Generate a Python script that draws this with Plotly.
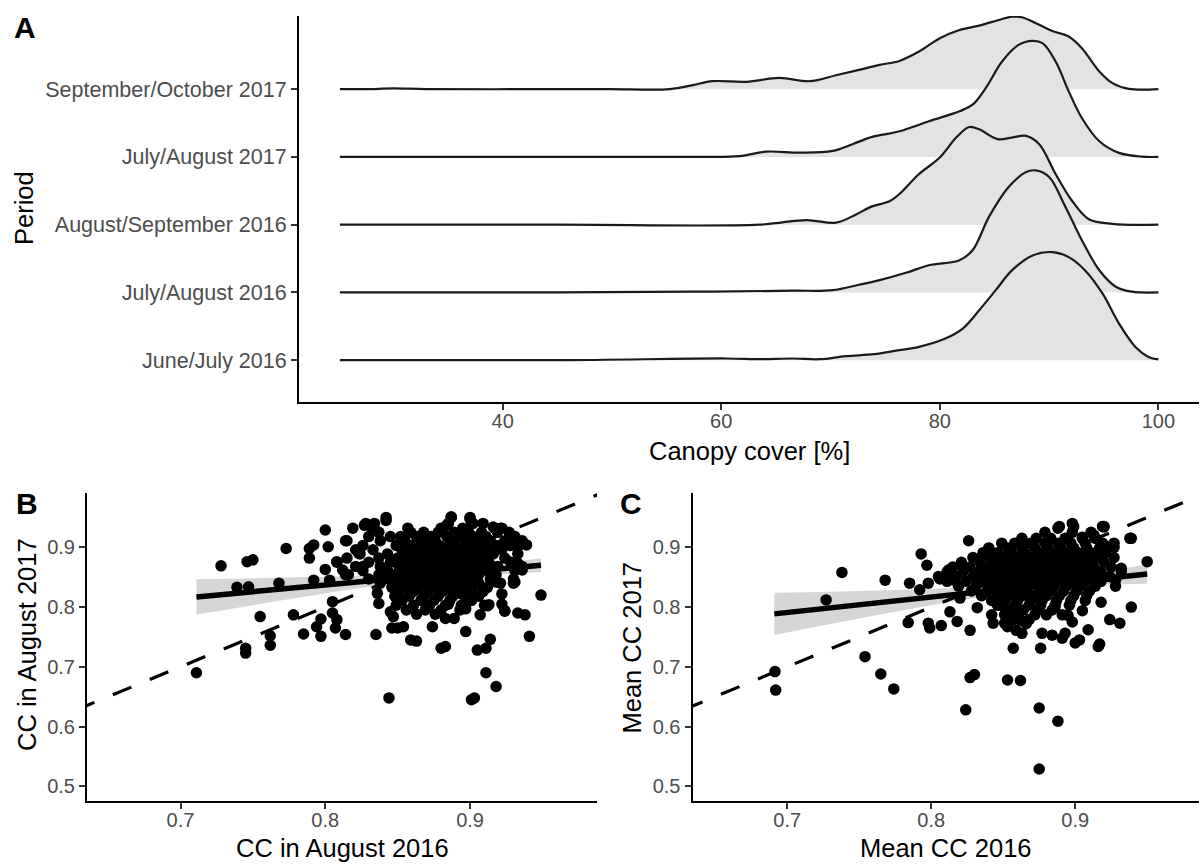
import plotly.graph_objects as go

FONT = "Liberation Sans, Arial, Helvetica, sans-serif"
W, H = 1201, 864

# ---------------------------------------------------------------- panel A data
periods = ["June/July 2016", "July/August 2016", "August/September 2016",
           "July/August 2017", "September/October 2017"]

# canopy cover (%) grid and density for each sampling period
cc_jj16 = [25.1, 45.0, 60.5, 63.5, 66.5, 69.0, 71.4, 74.0, 76.0, 78.1, 80.5, 82.1,
           83.6, 85.1, 86.6, 88.5, 90.3, 91.8, 93.3, 94.9, 96.4, 97.9, 99.1, 100.0]
dens_jj16 = [0, 0, 0.0014, 0.0008, 0.0014, 0.0008, 0.0033, 0.0049, 0.0078, 0.0109,
             0.0177, 0.0259, 0.0409, 0.0572, 0.0736, 0.0859, 0.0886, 0.0845, 0.0736,
             0.0545, 0.0300, 0.0109, 0.0027, 0.0006]

cc_ja16 = [25.1, 45.0, 57.4, 66.5, 70.2, 72.6, 74.5, 76.9, 79.0, 81.8, 83.0, 84.5,
           86.3, 87.9, 88.8, 90.0, 91.5, 93.0, 94.6, 96.1, 97.6, 100.0]
dens_ja16 = [0, 0, 0.0006, 0.0014, 0.0019, 0.0063, 0.0101, 0.0161, 0.0223, 0.0264,
             0.0346, 0.0619, 0.0864, 0.0987, 0.1000, 0.0946, 0.0701, 0.0428, 0.0182,
             0.0047, 0.0006, 0]

cc_as16 = [25.1, 45.0, 63.5, 67.8, 70.5, 72.3, 73.8, 75.4, 76.3, 78.1, 80.0, 81.5,
           82.7, 83.6, 85.3, 86.6, 87.9, 89.1, 90.6, 92.1, 93.6, 95.8, 100.0]
dens_as16 = [0, 0, 0, 0.0038, 0.0016, 0.0082, 0.0150, 0.0191, 0.0251, 0.0415, 0.0550,
             0.0714, 0.0801, 0.0782, 0.0701, 0.0714, 0.0728, 0.0660, 0.0415, 0.0196,
             0.0047, 0.0006, 0]

cc_ja17 = [25.1, 45.0, 58.0, 61.7, 64.1, 67.2, 70.2, 72.0, 73.8, 74.8, 76.3, 79.0,
           81.8, 83.0, 84.2, 85.7, 87.2, 88.5, 89.4, 90.6, 91.8, 93.0, 94.6, 96.4,
           98.5, 100.0]
dens_ja17 = [0, 0, 0, 0.0006, 0.0043, 0.0035, 0.0049, 0.0104, 0.0164, 0.0182, 0.0210,
             0.0292, 0.0374, 0.0428, 0.0564, 0.0782, 0.0918, 0.0951, 0.0932, 0.0782,
             0.0537, 0.0319, 0.0128, 0.0033, 0.0002, 0]

cc_so17 = [25.1, 27.5, 30.0, 33.0, 45.2, 49.8, 55.3, 57.4, 59.2, 62.3, 65.3, 68.1,
           70.5, 72.6, 74.5, 76.3, 78.1, 80.0, 81.8, 83.6, 85.4, 86.6, 87.5, 88.8,
           90.3, 91.8, 93.0, 94.6, 95.8, 97.3, 100.0]
dens_so17 = [0, 0, 0.0006, 0, 0, 0, 0, 0.0033, 0.0065, 0.0060, 0.0092, 0.0065, 0.0114,
             0.0158, 0.0199, 0.0231, 0.0308, 0.0417, 0.0485, 0.0521, 0.0567, 0.0594,
             0.0589, 0.0540, 0.0477, 0.0431, 0.0335, 0.0145, 0.0049, 0.0002, 0]

ridge_cc = [cc_jj16, cc_ja16, cc_as16, cc_ja17, cc_so17]
ridge_dens = [dens_jj16, dens_ja16, dens_as16, dens_ja17, dens_so17]
RIDGE_SCALE = 1.8 / max(max(d) for d in ridge_dens)   # tallest ridge = 1.8 rows

# ---------------------------------------------------------------- panel B data
# CC in August 2016 (x) vs CC in August 2017 (y); dense core stored row by row
b_rows = [
    (0.950, [0.842, 0.887, 0.900]),
    (0.940, [0.828, 0.834, 0.885, 0.902, 0.909]),
    (0.932, [0.819, 0.857, 0.880, 0.895, 0.917, 0.922]),
    (0.925, [0.837, 0.859, 0.868, 0.878, 0.889, 0.899, 0.908, 0.919, 0.927]),
    (0.918, [0.830, 0.845, 0.852, 0.863, 0.873, 0.884, 0.892, 0.902, 0.911, 0.931]),
    (0.911, [0.814, 0.838, 0.855, 0.866, 0.876, 0.886, 0.896, 0.905, 0.914, 0.924, 0.936]),
    (0.903, [0.826, 0.849, 0.859, 0.870, 0.879, 0.889, 0.899, 0.909, 0.919, 0.928]),
    (0.896, [0.821, 0.833, 0.853, 0.864, 0.874, 0.883, 0.893, 0.902, 0.913, 0.922]),
    (0.889, [0.824, 0.843, 0.857, 0.868, 0.877, 0.887, 0.897, 0.906, 0.916, 0.933]),
    (0.882, [0.815, 0.837, 0.850, 0.861, 0.871, 0.880, 0.890, 0.900, 0.910, 0.924]),
    (0.875, [0.808, 0.830, 0.845, 0.855, 0.865, 0.874, 0.884, 0.894, 0.903, 0.913, 0.928]),
    (0.868, [0.821, 0.838, 0.851, 0.859, 0.869, 0.878, 0.888, 0.898, 0.907, 0.919, 0.936]),
    (0.861, [0.826, 0.843, 0.854, 0.864, 0.873, 0.883, 0.893, 0.902, 0.912, 0.931]),
    (0.854, [0.816, 0.837, 0.848, 0.858, 0.868, 0.878, 0.888, 0.897, 0.906, 0.918]),
    (0.847, [0.830, 0.844, 0.853, 0.863, 0.872, 0.882, 0.892, 0.901, 0.914, 0.930]),
    (0.840, [0.838, 0.849, 0.859, 0.868, 0.877, 0.887, 0.896, 0.906, 0.921]),
    (0.833, [0.846, 0.855, 0.864, 0.874, 0.884, 0.893, 0.902, 0.912]),
    (0.826, [0.851, 0.861, 0.871, 0.881, 0.890, 0.899, 0.909]),
    (0.818, [0.848, 0.858, 0.868, 0.878, 0.888, 0.897, 0.906]),
    (0.811, [0.853, 0.866, 0.875, 0.886, 0.901]),
    (0.803, [0.849, 0.861, 0.872, 0.883, 0.894, 0.910]),
    (0.795, [0.856, 0.869, 0.880, 0.893]),
    (0.788, [0.863, 0.876]),
]
b_extra_x = [0.711, 0.728, 0.739, 0.747, 0.746, 0.750, 0.745, 0.745, 0.755, 0.762,
             0.762, 0.768, 0.773, 0.778, 0.785, 0.789, 0.789, 0.792, 0.792, 0.794,
             0.797, 0.797, 0.800, 0.802, 0.800, 0.803, 0.805, 0.808, 0.805, 0.808,
             0.807, 0.812, 0.814, 0.814, 0.815, 0.823, 0.826, 0.827, 0.832, 0.835,
             0.836, 0.837, 0.842, 0.844, 0.845, 0.847, 0.846, 0.850, 0.854, 0.859,
             0.863, 0.874, 0.880, 0.883, 0.883, 0.889, 0.887, 0.884, 0.897, 0.900,
             0.901, 0.901, 0.903, 0.905, 0.911, 0.914, 0.911, 0.918, 0.907, 0.913,
             0.924, 0.933, 0.938, 0.941, 0.949, 0.927, 0.933, 0.939, 0.933, 0.936,
             0.930, 0.921, 0.916, 0.849, 0.897, 0.902, 0.894, 0.885, 0.912, 0.918,
             0.931, 0.922, 0.922, 0.924]
b_extra_y = [0.690, 0.869, 0.833, 0.834, 0.876, 0.879, 0.731, 0.723, 0.784, 0.752,
             0.736, 0.840, 0.898, 0.787, 0.755, 0.898, 0.882, 0.904, 0.845, 0.767,
             0.780, 0.751, 0.929, 0.901, 0.863, 0.845, 0.809, 0.876, 0.790, 0.779,
             0.765, 0.862, 0.854, 0.754, 0.911, 0.890, 0.868, 0.937, 0.932, 0.754,
             0.823, 0.806, 0.945, 0.648, 0.792, 0.784, 0.765, 0.765, 0.767, 0.745,
             0.743, 0.767, 0.731, 0.734, 0.781, 0.781, 0.951, 0.937, 0.759, 0.948,
             0.940, 0.645, 0.648, 0.728, 0.731, 0.746, 0.690, 0.667, 0.787, 0.804,
             0.793, 0.790, 0.787, 0.751, 0.820, 0.909, 0.901, 0.904, 0.873, 0.862,
             0.840, 0.932, 0.934, 0.828, 0.797, 0.819, 0.822, 0.805, 0.802, 0.842,
             0.842, 0.822, 0.805, 0.794]

# linear fit with 95% band
b_fit_x = [0.711, 0.750, 0.790, 0.830, 0.870, 0.910, 0.949]
b_fit_y = [0.8170, 0.8257, 0.8346, 0.8435, 0.8524, 0.8613, 0.8700]
b_ci_lo = [0.7875, 0.8032, 0.8191, 0.8340, 0.8459, 0.8533, 0.8585]
b_ci_hi = [0.8465, 0.8482, 0.8501, 0.8530, 0.8589, 0.8693, 0.8815]

# ---------------------------------------------------------------- panel C data
# mean CC 2016 (x) vs mean CC 2017 (y)
c_rows = [
    (0.935, [0.889, 0.899, 0.920]),
    (0.925, [0.879, 0.898, 0.911]),
    (0.915, [0.863, 0.873, 0.883, 0.893, 0.905, 0.914, 0.939]),
    (0.907, [0.849, 0.858, 0.869, 0.879, 0.888, 0.897, 0.907, 0.919, 0.927]),
    (0.899, [0.840, 0.853, 0.863, 0.872, 0.881, 0.890, 0.899, 0.908, 0.917]),
    (0.891, [0.836, 0.846, 0.856, 0.865, 0.875, 0.884, 0.893, 0.902, 0.911, 0.921]),
    (0.883, [0.829, 0.841, 0.850, 0.860, 0.869, 0.878, 0.887, 0.896, 0.905, 0.915, 0.927]),
    (0.875, [0.821, 0.834, 0.845, 0.854, 0.864, 0.873, 0.881, 0.890, 0.900, 0.909, 0.920]),
    (0.867, [0.815, 0.827, 0.839, 0.849, 0.858, 0.868, 0.876, 0.885, 0.894, 0.904, 0.913, 0.925]),
    (0.859, [0.811, 0.822, 0.833, 0.844, 0.853, 0.862, 0.872, 0.880, 0.889, 0.898, 0.907, 0.918, 0.932]),
    (0.851, [0.805, 0.817, 0.829, 0.839, 0.849, 0.858, 0.867, 0.876, 0.884, 0.893, 0.903, 0.912, 0.924]),
    (0.843, [0.811, 0.824, 0.835, 0.845, 0.853, 0.862, 0.871, 0.879, 0.888, 0.898, 0.907, 0.918]),
    (0.835, [0.819, 0.831, 0.842, 0.850, 0.859, 0.868, 0.877, 0.885, 0.894, 0.904, 0.914, 0.928]),
    (0.827, [0.828, 0.839, 0.848, 0.857, 0.866, 0.875, 0.883, 0.892, 0.901, 0.910]),
    (0.819, [0.835, 0.846, 0.854, 0.863, 0.872, 0.880, 0.889, 0.899, 0.908]),
    (0.811, [0.842, 0.851, 0.860, 0.869, 0.877, 0.887, 0.897, 0.907]),
    (0.803, [0.848, 0.858, 0.868, 0.876, 0.886]),
    (0.795, [0.854, 0.864, 0.874, 0.884]),
    (0.787, [0.851, 0.860, 0.872, 0.880, 0.891]),
    (0.779, [0.857, 0.868]),
]
c_extra_x = [0.6915, 0.692, 0.727, 0.738, 0.754, 0.765, 0.768, 0.774, 0.784, 0.785,
             0.793, 0.797, 0.792, 0.798, 0.798, 0.799, 0.806, 0.807, 0.812, 0.813,
             0.816, 0.818, 0.820, 0.822, 0.824, 0.826, 0.827, 0.827, 0.830, 0.832,
             0.836, 0.842, 0.843, 0.851, 0.853, 0.862, 0.857, 0.863, 0.875, 0.875,
             0.876, 0.877, 0.884, 0.888, 0.891, 0.893, 0.900, 0.903, 0.909, 0.916,
             0.917, 0.924, 0.931, 0.939, 0.938, 0.950, 0.919, 0.898, 0.888, 0.932,
             0.928, 0.924, 0.886, 0.896, 0.895, 0.898, 0.905, 0.918, 0.862, 0.866,
             0.853, 0.859, 0.846, 0.920, 0.905, 0.913, 0.927]
c_extra_y = [0.692, 0.661, 0.812, 0.858, 0.717, 0.688, 0.845, 0.663, 0.774, 0.840,
             0.889, 0.870, 0.829, 0.840, 0.773, 0.765, 0.847, 0.769, 0.862, 0.792,
             0.845, 0.776, 0.815, 0.869, 0.628, 0.911, 0.761, 0.682, 0.687, 0.799,
             0.886, 0.787, 0.773, 0.773, 0.678, 0.677, 0.731, 0.756, 0.631, 0.529,
             0.731, 0.756, 0.753, 0.609, 0.748, 0.756, 0.740, 0.745, 0.762, 0.734,
             0.738, 0.779, 0.773, 0.800, 0.915, 0.876, 0.935, 0.940, 0.932, 0.865,
             0.845, 0.901, 0.800, 0.803, 0.786, 0.775, 0.794, 0.808, 0.778, 0.772,
             0.767, 0.761, 0.803, 0.934, 0.917, 0.920, 0.900]

c_fit_x = [0.691, 0.730, 0.770, 0.810, 0.850, 0.890, 0.920, 0.950]
c_fit_y = [0.7886, 0.7987, 0.8090, 0.8193, 0.8296, 0.8399, 0.8477, 0.8554]
c_ci_lo = [0.7531, 0.7717, 0.7900, 0.8073, 0.8221, 0.8329, 0.8372, 0.8389]
c_ci_hi = [0.8241, 0.8257, 0.8280, 0.8313, 0.8371, 0.8469, 0.8582, 0.8719]

identity = [0.5, 1.0]   # 1:1 reference line

# ---------------------------------------------------------------- helpers
def px_x(a, b):
    return [a / W, b / W]


def px_y(top, bottom):
    return [1 - bottom / H, 1 - top / H]


def expand_rows(rows):
    xs, ys = [], []
    for yv, xlist in rows:
        for xv in xlist:
            xs.append(xv)
            ys.append(yv)
    return xs, ys


fig = go.Figure()

# ---------------------------------------------------------------- ridgelines
for i in reversed(range(len(periods))):
    xs = ridge_cc[i]
    fig.add_trace(go.Scatter(x=xs, y=[i] * len(xs), mode="lines",
                             line=dict(width=0, color="rgba(0,0,0,0)"),
                             hoverinfo="skip", xaxis="x", yaxis="y"))
    fig.add_trace(go.Scatter(x=xs, y=[i + d * RIDGE_SCALE for d in ridge_dens[i]],
                             mode="lines", fill="tonexty", fillcolor="#E3E3E3",
                             line=dict(color="#1A1A1A", width=2.2, shape="spline",
                                       smoothing=1.0),
                             name=periods[i], xaxis="x", yaxis="y"))

# ---------------------------------------------------------------- scatter panels
def add_scatter_panel(rows, ex, ey, fx, fy, lo, hi, xa, ya):
    rx, ry = expand_rows(rows)
    # confidence band and fitted line sit underneath the points
    fig.add_trace(go.Scatter(x=fx, y=lo, mode="lines",
                             line=dict(width=0, shape="spline"),
                             hoverinfo="skip", xaxis=xa, yaxis=ya))
    fig.add_trace(go.Scatter(x=fx, y=hi, mode="lines", fill="tonexty",
                             fillcolor="rgba(153,153,153,0.4)",
                             line=dict(width=0, shape="spline"),
                             hoverinfo="skip", xaxis=xa, yaxis=ya))
    fig.add_trace(go.Scatter(x=fx, y=fy, mode="lines",
                             line=dict(color="black", width=5.5),
                             xaxis=xa, yaxis=ya))
    fig.add_trace(go.Scatter(x=rx + ex, y=ry + ey, mode="markers",
                             marker=dict(size=11.5, color="black", line=dict(width=0)),
                             xaxis=xa, yaxis=ya))
    fig.add_trace(go.Scatter(x=identity, y=identity, mode="lines",
                             line=dict(color="black", width=3.2, dash="20px,20px"),
                             hoverinfo="skip", xaxis=xa, yaxis=ya))


add_scatter_panel(b_rows, b_extra_x, b_extra_y, b_fit_x, b_fit_y, b_ci_lo, b_ci_hi,
                  "x2", "y2")
add_scatter_panel(c_rows, c_extra_x, c_extra_y, c_fit_x, c_fit_y, c_ci_lo, c_ci_hi,
                  "x3", "y3")

# ---------------------------------------------------------------- axes
axis_common = dict(showgrid=False, zeroline=False, showline=True, linecolor="black",
                   linewidth=2, ticks="outside", ticklen=6, tickwidth=2,
                   tickcolor="#333333",
                   tickfont=dict(family=FONT, size=20, color="#4D4D4D"))
x_common = dict(axis_common, ticklabelstandoff=-6)

ridge_top = len(periods) - 1 + max(dens_so17) * RIDGE_SCALE + 0.01

fig.update_layout(
    width=W, height=H, autosize=False,
    margin=dict(l=0, r=0, t=0, b=0, pad=0),
    paper_bgcolor="white", plot_bgcolor="white",
    showlegend=False, hovermode=False,
    font=dict(family=FONT, color="black"),
    xaxis=dict(x_common, domain=px_x(299, 1199), range=[21.36, 103.72],
               tickvals=[40, 60, 80, 100], anchor="y"),
    yaxis=dict(axis_common, domain=px_y(16, 402), range=[-0.617, ridge_top],
               tickvals=list(range(len(periods))), ticktext=periods,
               tickfont=dict(family=FONT, size=21.5, color="#4D4D4D"), anchor="x"),
    xaxis2=dict(x_common, domain=px_x(87, 597), range=[0.6354, 0.9877],
                tickvals=[0.7, 0.8, 0.9], anchor="y2"),
    yaxis2=dict(axis_common, domain=px_y(493, 801), range=[0.4754, 0.9909],
                tickvals=[0.5, 0.6, 0.7, 0.8, 0.9], anchor="x2"),
    xaxis3=dict(x_common, domain=px_x(692.5, 1199), range=[0.6342, 0.9860],
                tickvals=[0.7, 0.8, 0.9], anchor="y3"),
    yaxis3=dict(axis_common, domain=px_y(493, 801), range=[0.4754, 0.9909],
                tickvals=[0.5, 0.6, 0.7, 0.8, 0.9], anchor="x3"),
)

# ---------------------------------------------------------------- titles and tags
def label(text, cx, cy, size, angle=0, bold=False):
    fig.add_annotation(text=f"<b>{text}</b>" if bold else text,
                       x=cx / W, y=1 - cy / H, xref="paper", yref="paper",
                       xanchor="center", yanchor="middle", showarrow=False,
                       textangle=angle, font=dict(family=FONT, size=size, color="black"))


label("A", 24.5, 27, 30, bold=True)
label("B", 27, 503, 30, bold=True)
label("C", 631, 503, 30, bold=True)
label("Period", 24, 208, 25.5, angle=-90)
label("Canopy cover [%]", 749, 451, 25.5)
label("CC in August 2017", 27, 645, 25.5, angle=-90)
label("CC in August 2016", 342, 848, 25.5)
label("Mean CC 2017", 631.5, 648, 25.5, angle=-90)
label("Mean CC 2016", 945.7, 848, 25.5)

fig.write_html("out.html")
